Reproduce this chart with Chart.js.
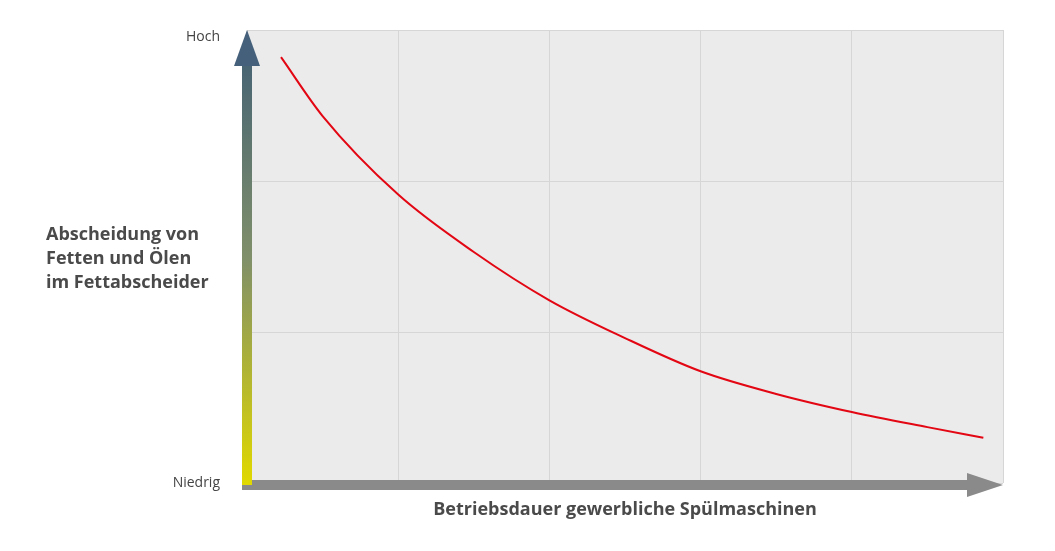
<!DOCTYPE html>
<html><head><meta charset="utf-8">
<script src="https://cdn.jsdelivr.net/npm/chart.js@4/dist/chart.umd.min.js"></script>
<style>html,body{margin:0;padding:0;background:#fff}#w{width:1055px;height:551px}</style>
</head><body><div id="w"><canvas id="c"></canvas></div>
<script>
const xValues = [0.225, 0.5, 1, 1.5, 2, 2.5, 3, 3.5, 4, 4.5, 4.87];
const yValues = [2.82, 2.43, 1.91, 1.53, 1.21, 0.96, 0.74, 0.59, 0.47, 0.37, 0.30];
const yTickLabels = {0: 'Niedrig', 3: 'Hoch'};
const yTitle = ['Abscheidung von', 'Fetten und Ölen', 'im Fettabscheider'];
const xTitle = 'Betriebsdauer gewerbliche Spülmaschinen';

const deco = {
  id: 'deco',
  beforeDraw(chart) {
    const {ctx, chartArea: a} = chart;
    ctx.save(); ctx.fillStyle = '#ebebeb';
    ctx.fillRect(a.left, a.top, a.right - a.left, a.bottom - a.top);
    ctx.restore();
  },
  afterDraw(chart) {
    const {ctx, chartArea: a, scales} = chart;
    ctx.save();
    // x arrow
    ctx.fillStyle = '#8a8a8a';
    const yb = a.bottom + 2;
    ctx.fillRect(a.left - 5, yb - 5, a.right - a.left - 30, 10);
    ctx.beginPath(); ctx.moveTo(a.right - 36, yb - 12); ctx.lineTo(a.right, yb); ctx.lineTo(a.right - 36, yb + 12); ctx.closePath(); ctx.fill();
    // y arrow
    const g = ctx.createLinearGradient(0, a.top, 0, a.bottom);
    g.addColorStop(0, '#3f5d75'); g.addColorStop(0.5, '#7f8f6a'); g.addColorStop(1, '#e0d800');
    ctx.fillStyle = g;
    ctx.fillRect(a.left - 5, a.top + 30, 10, a.bottom - a.top - 28);
    ctx.beginPath(); ctx.moveTo(a.left - 13, a.top + 36); ctx.lineTo(a.left, a.top); ctx.lineTo(a.left + 13, a.top + 36); ctx.closePath();
    ctx.fillStyle = '#45607a'; ctx.fill();
    // tick labels
    ctx.fillStyle = '#444'; ctx.font = '14px "Open Sans", sans-serif'; ctx.textAlign = 'right'; ctx.textBaseline = 'middle';
    for (const k in yTickLabels) ctx.fillText(yTickLabels[k], a.left - 27, scales.y.getPixelForValue(+k) + (k == 3 ? 7 : 0));
    // titles
    ctx.fillStyle = '#4a4a4a'; ctx.font = 'bold 18px "Open Sans", sans-serif'; ctx.textAlign = 'left';
    yTitle.forEach((t, i) => ctx.fillText(t, 46, 235 + i * 24));
    ctx.textAlign = 'center';
    ctx.fillText(xTitle, (a.left + a.right) / 2, 510);
    ctx.restore();
  }
};

new Chart(document.getElementById('c'), {
  type: 'scatter',
  data: { datasets: [{ data: xValues.map((x, i) => ({x, y: yValues[i]})), showLine: true, borderColor: '#e30613', borderWidth: 2, pointRadius: 0, tension: 0.4, cubicInterpolationMode: 'monotone' }] },
  options: {
    responsive: true, maintainAspectRatio: false, animation: false,
    layout: { padding: { left: 247, top: 30, right: 52, bottom: 68 } },
    plugins: { legend: { display: false }, tooltip: { enabled: false } },
    scales: {
      x: { min: 0, max: 5, ticks: { display: false, stepSize: 1 }, grid: { color: '#d6d6d6', drawTicks: false }, border: { display: false } },
      y: { min: 0, max: 3, ticks: { display: false, stepSize: 1 }, grid: { color: '#d6d6d6', drawTicks: false }, border: { display: false } }
    }
  },
  plugins: [deco]
});
</script></body></html>
